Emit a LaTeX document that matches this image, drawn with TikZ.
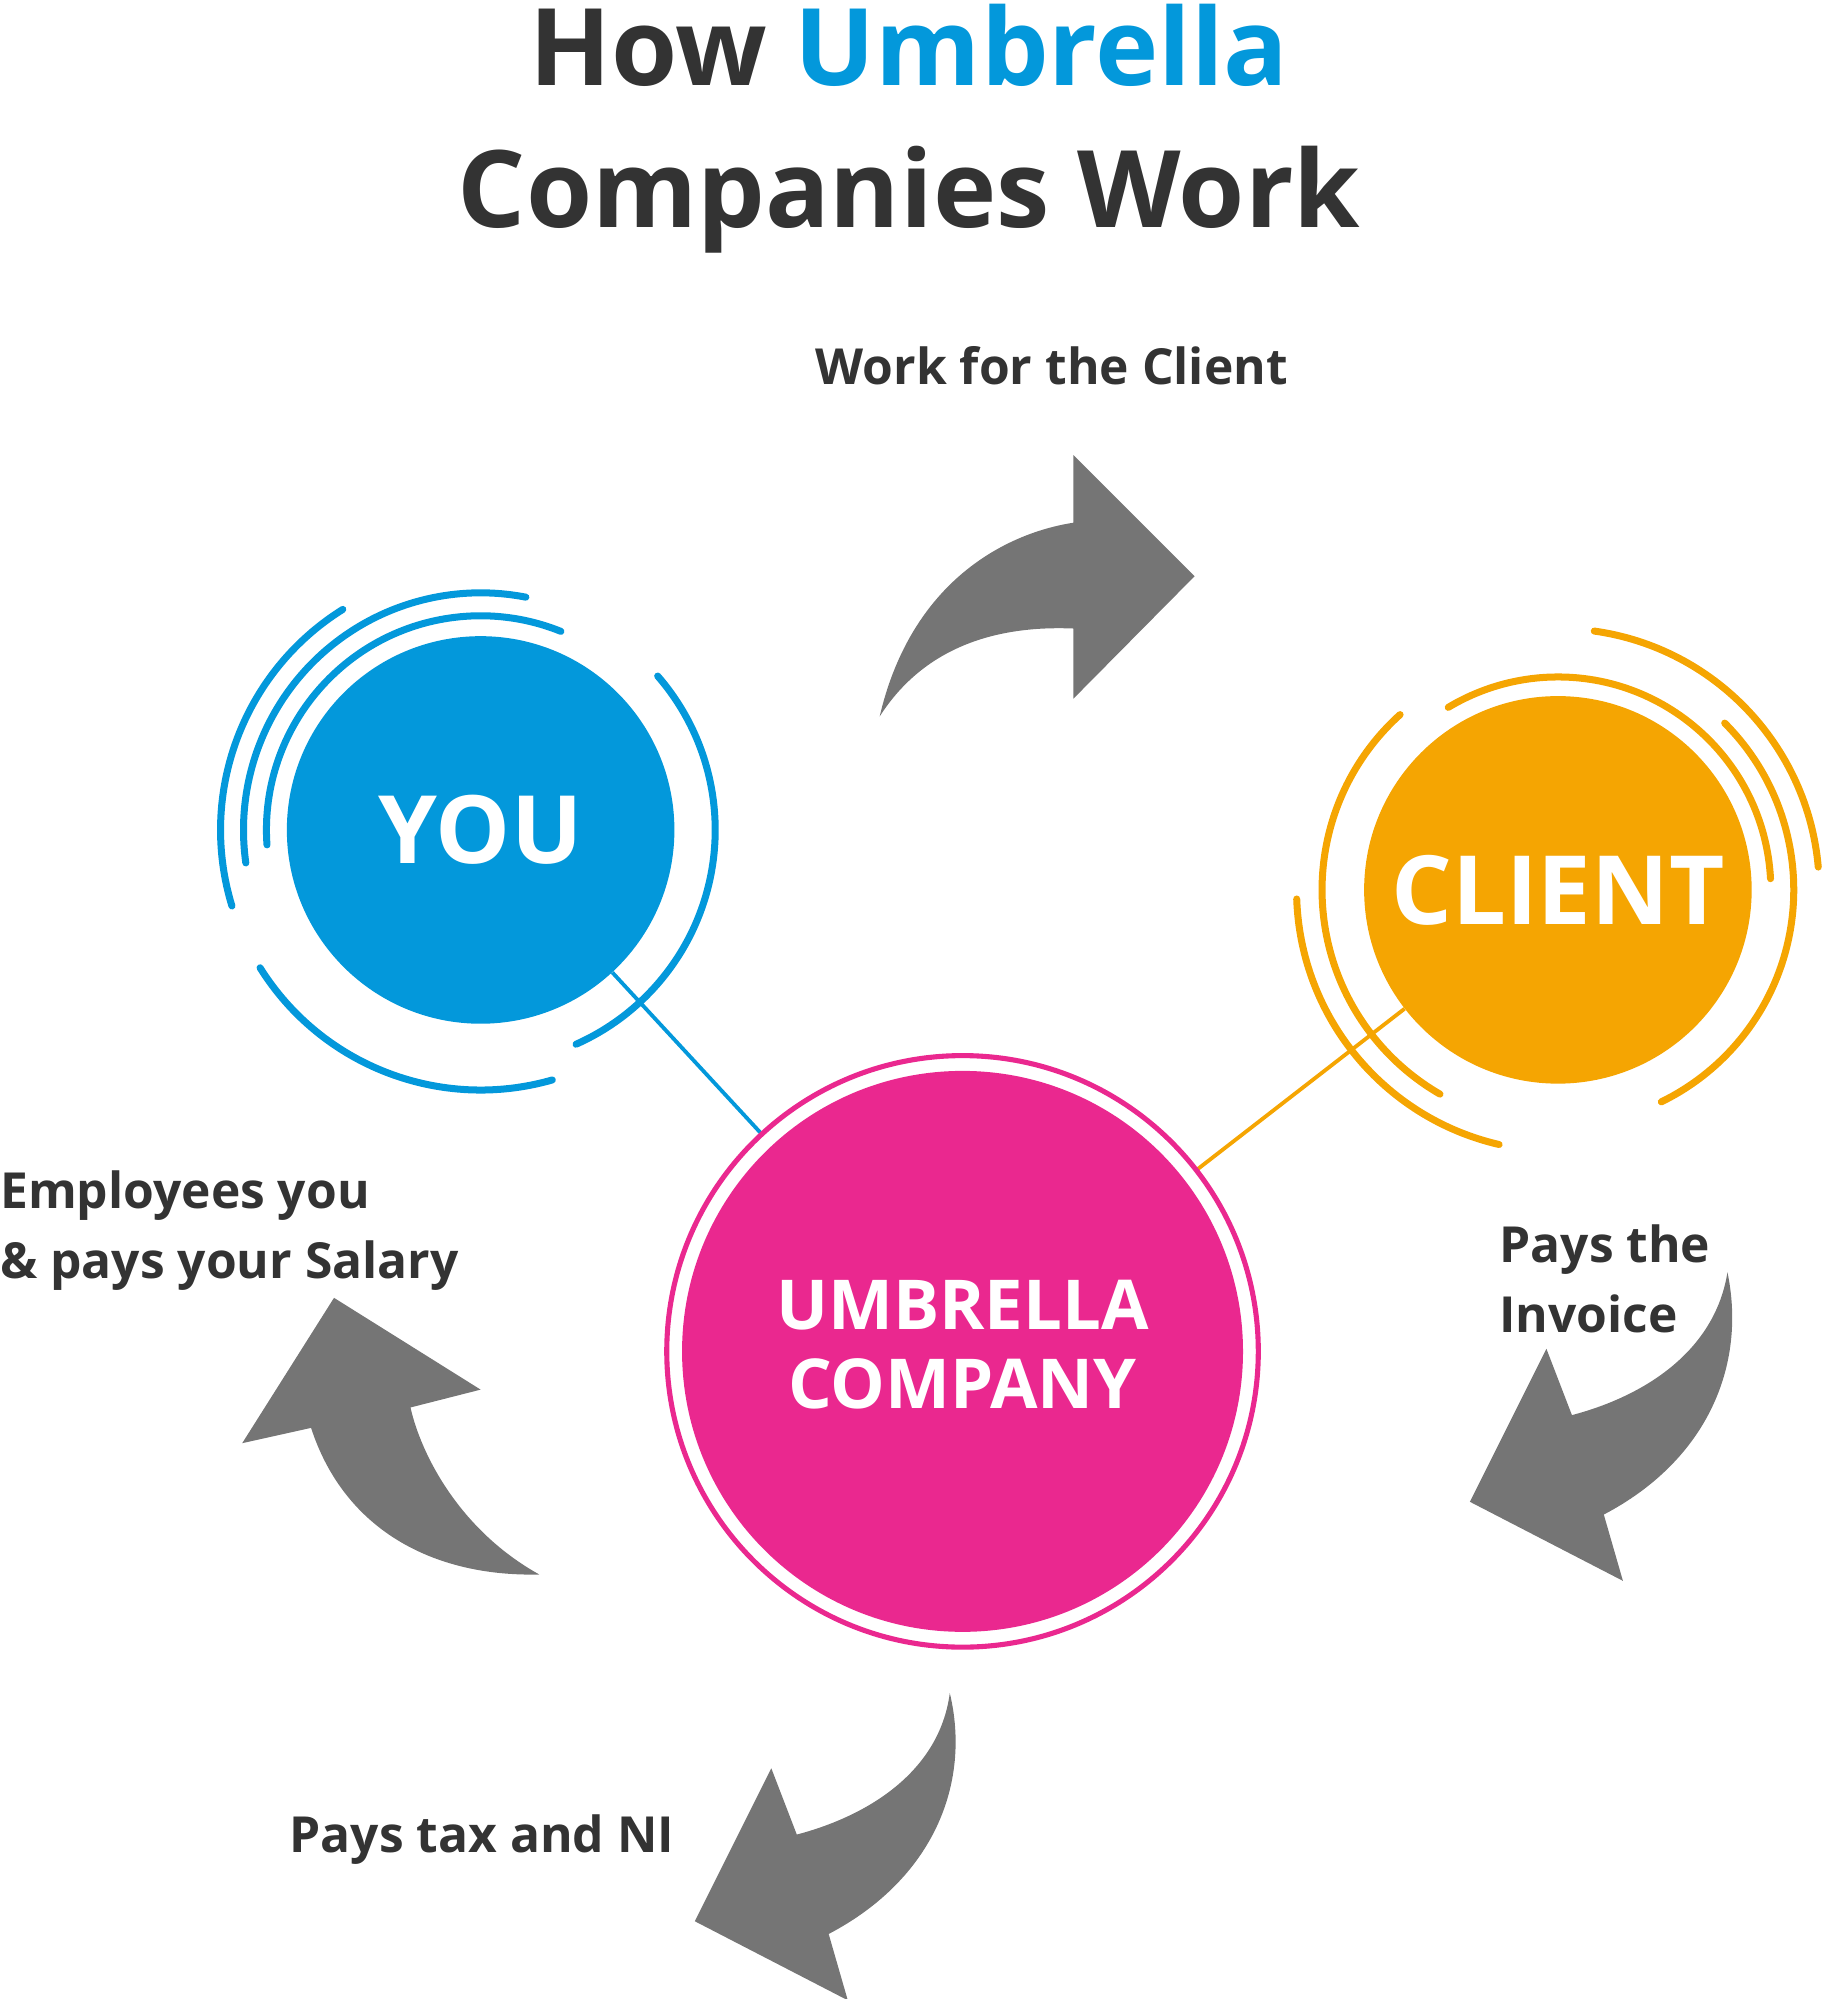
\documentclass[tikz,border=0pt]{standalone}
\usepackage{fontspec}
\setmainfont{Open Sans}
\begin{document}
\begin{tikzpicture}[x=1pt,y=-1pt,
  txt/.style={text=dark,font=\bfseries\fontsize{39}{55}\selectfont,inner sep=0pt},
  arrowshape/.style={fill=arrowgray,draw=none},
  ring/.style={line width=5.5pt,line cap=round}]
\definecolor{dark}{HTML}{333333}
\definecolor{blue}{HTML}{0398DB}
\definecolor{orange}{HTML}{F5A502}
\definecolor{pink}{HTML}{EA288F}
\definecolor{arrowgray}{HTML}{757575}
\useasboundingbox (0,0) rectangle (1430,1568);
% title
\node[txt,font=\bfseries\fontsize{84}{112}\selectfont,align=center] (title) at (713,101) {How \textcolor{blue}{Umbrella}\\Companies Work};
% connectors
\node[circle,minimum size=304pt,inner sep=0pt] (you) at (377,651) {};
\node[circle,minimum size=304pt,inner sep=0pt] (client) at (1222,698) {};
\node[circle,minimum size=466pt,inner sep=0pt] (umb) at (755,1060) {};
\draw[blue,line width=3pt] (you) -- (umb);
\draw[orange,line width=3pt] (client) -- (umb);
% YOU
\fill[blue] (you.center) circle (152);
\node[text=white,font=\bfseries\fontsize{74}{80}\selectfont] (youtxt) at (you.center) {YOU};
\begin{scope}[shift={(377,651)},blue,ring]
\draw (-122:204) arc[start angle=-122,end angle=-197,radius=204];
\draw (-188:186) arc[start angle=-188,end angle=-79,radius=186];
\draw (-184:168) arc[start angle=-184,end angle=-68,radius=168];
\draw (-41:184) arc[start angle=-41,end angle=66,radius=184];
\draw (-212:204) arc[start angle=-212,end angle=-286,radius=204];
\end{scope}
% CLIENT
\fill[orange] (client.center) circle (152);
\node[text=white,font=\bfseries\fontsize{75}{80}\selectfont] (clienttxt) at (client.center) {CLIENT};
\begin{scope}[shift={(1222,698)},orange,ring]
\draw (-182:205) arc[start angle=-182,end angle=-257,radius=205];
\draw (-132:185) arc[start angle=-132,end angle=-240,radius=185];
\draw (-3:167) arc[start angle=-3,end angle=-121,radius=167];
\draw (-5:205) arc[start angle=-5,end angle=-82,radius=205];
\draw (-45:185) arc[start angle=-45,end angle=64,radius=185];
\end{scope}
% UMBRELLA
\draw[pink,line width=4pt] (umb.center) circle (232);
\fill[pink] (umb.center) circle (220);
\node[text=white,font=\bfseries\fontsize{54}{62}\selectfont,align=center] (umbtxt) at (755,1055) {UMBRELLA\\COMPANY};
% arrows
\fill[arrowshape] (690,562) .. controls (715,455) and (790,418) .. (842,410) -- (842,357) -- (937,452) -- (842,548) -- (842,493) .. controls (770,490) and (720,515) .. (690,562) -- cycle;
\fill[arrowshape] (423,1235) .. controls (360,1200) and (330,1140) .. (322,1104) -- (377,1090) -- (262,1018) -- (190,1132) -- (244,1120) .. controls (270,1200) and (340,1237) .. (423,1235) -- cycle;
\fill[arrowshape] (1355,998) .. controls (1345,1060) and (1290,1095) .. (1233,1110) -- (1213,1058) -- (1153,1178) -- (1273,1240) -- (1258,1188) .. controls (1340,1145) and (1370,1070) .. (1355,998) -- cycle;
\begin{scope}[shift={(-608,329)}]
\fill[arrowshape] (1353,999) .. controls (1345,1060) and (1290,1095) .. (1233,1110) -- (1213,1058) -- (1153,1178) -- (1273,1240) -- (1258,1188) .. controls (1340,1145) and (1370,1070) .. (1353,999) -- cycle;
\end{scope}
% labels
\node[txt] (l1) at (825,287) {Work for the Client};
\node[txt,align=left,anchor=west] (l2) at (0,965) {Employees you\\\& pays your Salary};
\node[txt,align=left,anchor=west] (l3) at (1176,1003) {Pays the\\Invoice};
\node[txt] (l4) at (378,1443) {Pays tax and NI};
\end{tikzpicture}
\end{document}
